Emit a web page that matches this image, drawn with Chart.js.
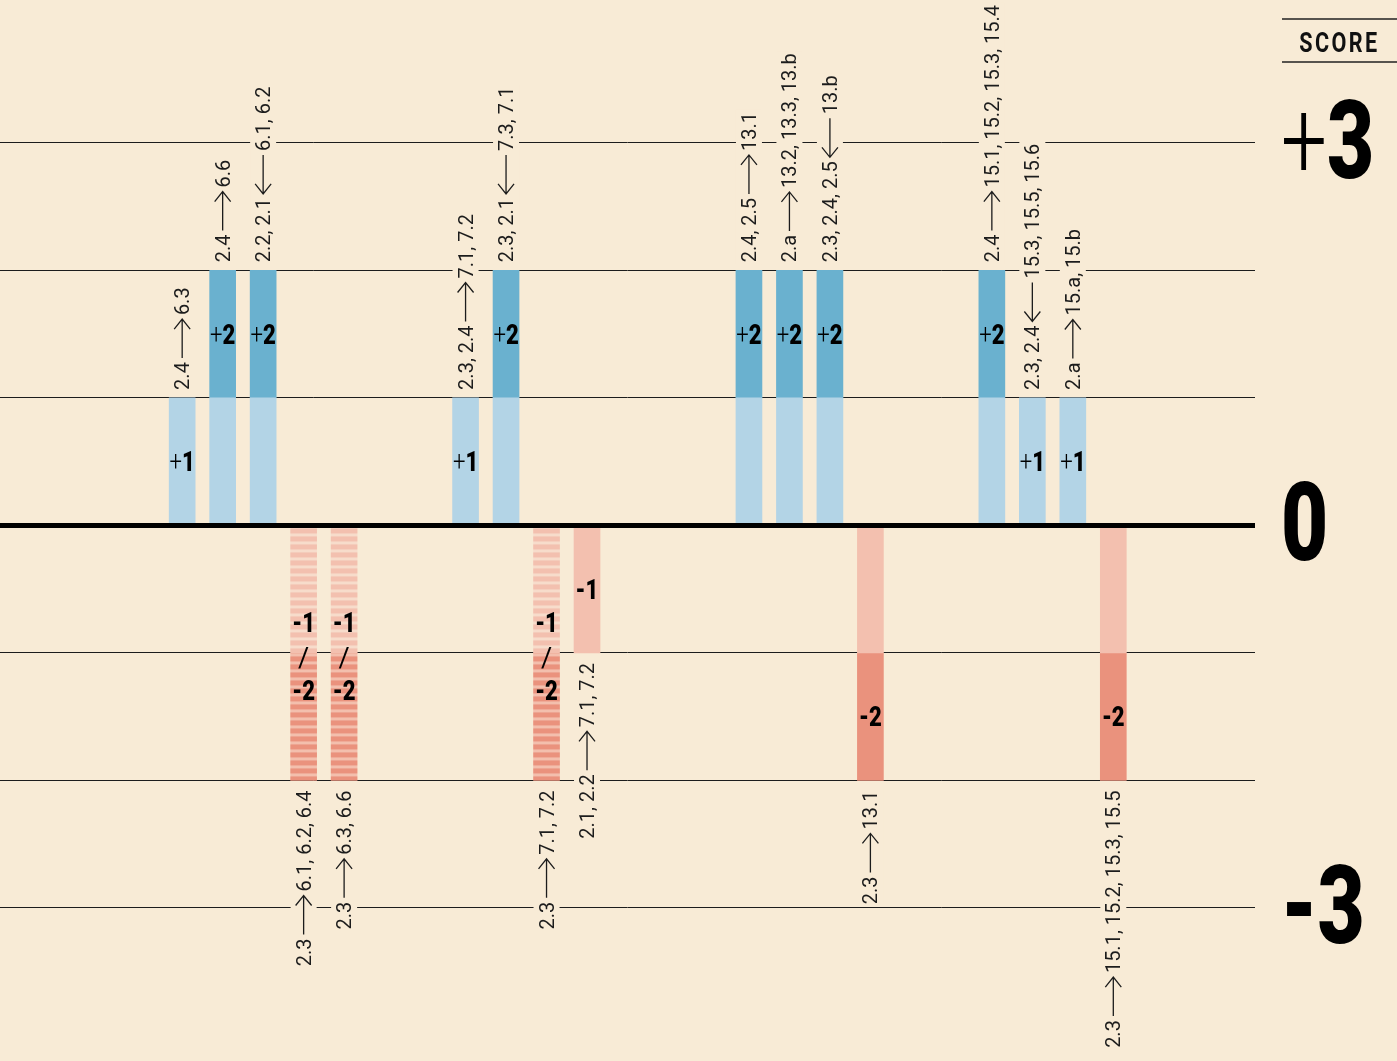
<!DOCTYPE html>
<html lang="en">
<head>
<meta charset="utf-8">
<title>SDG 2 target interactions – score</title>
<script src="https://cdn.jsdelivr.net/npm/chart.js@4.4.1/dist/chart.umd.min.js"></script>
<style>
  html, body { margin: 0; padding: 0; background: #f8ebd6; }
  #wrap { width: 1397px; height: 1061px; position: relative; }
</style>
</head>
<body>
<div id="wrap"><canvas id="scoreChart"></canvas></div>
<script>
// ===== data =====
const sdg2Targets = ['2.4', '2.4', '2.2, 2.1', '2.3', '2.3', '2.3, 2.4', '2.3, 2.1', '2.3', '2.1, 2.2',
  '2.4, 2.5', '2.a', '2.3, 2.4, 2.5', '2.3', '2.4', '2.3, 2.4', '2.a', '2.3'];
const arrowDirs = ['right', 'right', 'left', 'right', 'right', 'right', 'left', 'right', 'right',
  'right', 'right', 'left', 'right', 'right', 'left', 'right', 'right'];
const otherTargets = ['6.3', '6.6', '6.1, 6.2', '6.1, 6.2, 6.4', '6.3, 6.6', '7.1, 7.2', '7.3, 7.1', '7.1, 7.2', '7.1, 7.2',
  '13.1', '13.2, 13.3, 13.b', '13.b', '13.1', '15.1, 15.2, 15.3, 15.4', '15.3, 15.5, 15.6', '15.a, 15.b', '15.1, 15.2, 15.3, 15.5'];
const scores = [1, 2, 2, -2, -2, 1, 2, -2, -1, 2, 2, 2, -2, 2, 1, 1, -2];
// -1 / -2 : score not settled between the two
const uncertain = [false, false, false, true, true, false, false, true, false,
  false, false, false, false, false, false, false, false];
const groupSizes = [5, 4, 4, 4];
const scoreMarks = [3, 0, -3];
const scoreMarkLabels = ['+3', '0', '-3'];

// ===== layout =====
const LEAD_SLOTS = 4;
const GAP_SLOTS = [2, 3, 2];
const TRAIL_SLOTS = 3;

const BG = '#f8ebd6';
const INK = '#1c1c1c';
const BLUE_LIGHT = '#b3d4e6';
const BLUE_DARK = '#6ab1cf';
const RED_LIGHT = '#f3c0af';
const RED_DARK = '#ea927d';

// slot -> bar index (null = empty slot)
const slotBar = [];
for (let i = 0; i < LEAD_SLOTS; i++) slotBar.push(null);
let barNo = 0;
groupSizes.forEach((n, g) => {
  for (let i = 0; i < n; i++) slotBar.push(barNo++);
  const gap = g < GAP_SLOTS.length ? GAP_SLOTS[g] : TRAIL_SLOTS;
  for (let i = 0; i < gap; i++) slotBar.push(null);
});
const slotLabels = slotBar.map(b => b == null ? '' : sdg2Targets[b] + ' / ' + otherTargets[b]);
const innerData = slotBar.map(b => b == null ? null : Math.sign(scores[b]));
const outerData = slotBar.map(b => (b == null || Math.abs(scores[b]) < 2) ? null : scores[b] - Math.sign(scores[b]));

// striped fill for the -1 / -2 bars
function makeStripes(stripe, gap) {
  const c = document.createElement('canvas');
  c.width = 4; c.height = 8;
  const g = c.getContext('2d');
  g.fillStyle = gap; g.fillRect(0, 0, 4, 8);
  g.fillStyle = stripe; g.fillRect(0, 0, 4, 5);
  return g.createPattern(c, 'repeat');
}
const ctx0 = document.getElementById('scoreChart').getContext('2d');
const stripeLight = makeStripes(RED_LIGHT, '#f7dccb');
const stripeDark = makeStripes(RED_DARK, '#f3bfad');

function innerColor(c) {
  const b = slotBar[c.dataIndex];
  if (b == null) return 'rgba(0,0,0,0)';
  if (uncertain[b]) return stripeLight;
  return scores[b] > 0 ? BLUE_LIGHT : RED_LIGHT;
}
function outerColor(c) {
  const b = slotBar[c.dataIndex];
  if (b == null) return 'rgba(0,0,0,0)';
  if (uncertain[b]) return stripeDark;
  return scores[b] > 0 ? BLUE_DARK : RED_DARK;
}

// sign light for '+', heavy for '-', digits heavy, squeezed horizontally
function drawSigned(ctx, text, x, baseline, size, squeeze, align) {
  const sign = (text[0] === '+' || text[0] === '-') ? text[0] : '';
  const rest = sign ? text.slice(1) : text;
  const fam = 'px Roboto, "Liberation Sans", sans-serif';
  const signFont = (sign === '+' ? '300 ' : '900 ') + size + fam;
  const restFont = '900 ' + size + fam;
  ctx.font = signFont;
  const ws = sign ? ctx.measureText(sign).width : 0;
  ctx.font = restFont;
  const wr = ctx.measureText(rest).width;
  ctx.save();
  ctx.translate(x, baseline);
  ctx.scale(squeeze, 1);
  ctx.textAlign = 'left';
  ctx.textBaseline = 'alphabetic';
  ctx.fillStyle = '#000';
  const x0 = align === 'left' ? 0 : -(ws + wr) / 2;
  if (sign) { ctx.font = signFont; ctx.fillText(sign, x0, 0); }
  ctx.font = restFont;
  ctx.fillText(rest, x0 + ws, 0);
  ctx.restore();
}

const LABEL_FONT = '400 20px Roboto, "Liberation Sans", sans-serif';
const ARROW_LEN = 39;
const ARROW_GAP = 4;

const labelPlugin = {
  id: 'labelPlugin',
  beforeDatasetsDraw(chart) {
    const y0 = chart.scales.y.getPixelForValue(0);
    const m = new DOMMatrix().translate(0, y0 + 3);
    stripeLight.setTransform(m);
    stripeDark.setTransform(m);
  },
  afterDatasetsDraw(chart) {
    const ctx = chart.ctx;
    const ys = chart.scales.y;
    const area = chart.chartArea;
    const meta = chart.getDatasetMeta(0);

    // zero line on top of the bars
    const y0 = ys.getPixelForValue(0);
    ctx.save();
    ctx.strokeStyle = '#000';
    ctx.lineWidth = 5;
    ctx.beginPath();
    ctx.moveTo(area.left, y0);
    ctx.lineTo(area.right, y0);
    ctx.stroke();
    ctx.restore();

    slotBar.forEach((b, s) => {
      if (b == null) return;
      const x = meta.data[s].x;
      const s0 = scores[b];
      const sg = Math.sign(s0);

      // rotated target label
      ctx.save();
      ctx.font = LABEL_FONT;
      const wa = ctx.measureText(sdg2Targets[b]).width;
      const wb = ctx.measureText(otherTargets[b]).width;
      const total = wa + ARROW_GAP * 2 + ARROW_LEN + wb;
      const yEnd = ys.getPixelForValue(s0);
      const start = s0 > 0 ? yEnd - 8 : yEnd + 10 + total;
      ctx.translate(x, start);
      ctx.rotate(-Math.PI / 2);
      ctx.fillStyle = BG;
      ctx.fillRect(-2, -13, total + 4, 26);
      ctx.fillStyle = INK;
      ctx.textAlign = 'left';
      ctx.textBaseline = 'alphabetic';
      ctx.fillText(sdg2Targets[b], 0, 7);
      ctx.fillText(otherTargets[b], wa + ARROW_GAP * 2 + ARROW_LEN, 7);
      const a1 = wa + ARROW_GAP, a2 = a1 + ARROW_LEN;
      ctx.strokeStyle = INK;
      ctx.lineWidth = 1.3;
      ctx.beginPath();
      ctx.moveTo(a1, 0); ctx.lineTo(a2, 0);
      if (arrowDirs[b] === 'right') {
        ctx.moveTo(a2 - 10, -8); ctx.lineTo(a2, 0); ctx.lineTo(a2 - 10, 8);
      } else {
        ctx.moveTo(a1 + 10, -8); ctx.lineTo(a1, 0); ctx.lineTo(a1 + 10, 8);
      }
      ctx.stroke();
      ctx.restore();

      // score inside the bar
      const cap = 27 * 0.711;
      if (uncertain[b]) {
        const yl = ys.getPixelForValue(-1);
        drawSigned(ctx, '-1', x, yl - 31 + cap / 2, 27, 0.82);
        ctx.save();
        ctx.font = '400 27px Roboto, sans-serif';
        ctx.fillStyle = '#000';
        ctx.textAlign = 'center';
        ctx.textBaseline = 'alphabetic';
        ctx.fillText('/', x, yl + 4 + cap / 2);
        ctx.restore();
        drawSigned(ctx, '-2', x, yl + 37 + cap / 2, 27, 0.82);
      } else {
        const mid = Math.abs(s0) > 1 ? sg * 1.5 : sg * 0.5;
        const txt = (s0 > 0 ? '+' : '-') + Math.abs(s0);
        drawSigned(ctx, txt, x, ys.getPixelForValue(mid) + cap / 2, 27, 0.82);
      }
    });

    // score key on the right
    const kx = area.right + 27;
    ctx.save();
    ctx.strokeStyle = '#222';
    ctx.lineWidth = 1.5;
    ctx.beginPath();
    ctx.moveTo(kx, 19); ctx.lineTo(chart.width, 19);
    ctx.moveTo(kx, 62); ctx.lineTo(chart.width, 62);
    ctx.stroke();
    ctx.translate((kx + chart.width) / 2, 52);
    ctx.scale(0.8, 1);
    ctx.font = '700 27px Roboto, sans-serif';
    ctx.letterSpacing = '3px';
    ctx.fillStyle = '#111';
    ctx.textAlign = 'center';
    ctx.fillText('SCORE', 0, 0);
    ctx.restore();

    scoreMarks.forEach((v, i) => {
      drawSigned(ctx, scoreMarkLabels[i], kx - 1, ys.getPixelForValue(v) + 35, 110, 0.74, 'left');
    });
  }
};

new Chart(ctx0, {
  type: 'bar',
  data: {
    labels: slotLabels,
    datasets: [
      { label: 'score 0 to ±1', data: innerData, backgroundColor: innerColor, barThickness: 26, borderWidth: 0 },
      { label: 'score ±1 to ±2', data: outerData, backgroundColor: outerColor, barThickness: 26, borderWidth: 0 }
    ]
  },
  options: {
    responsive: true,
    maintainAspectRatio: false,
    animation: false,
    layout: { padding: { left: 0, right: 142, top: 0, bottom: 0 } },
    plugins: { legend: { display: false }, tooltip: { enabled: false } },
    scales: {
      x: { stacked: true, display: false },
      y: {
        stacked: true,
        min: -4.2,
        max: 4.12,
        border: { display: false },
        ticks: { display: false, stepSize: 1 },
        grid: {
          drawTicks: false,
          color: c => (Number.isInteger(c.tick.value) && Math.abs(c.tick.value) <= 3) ? '#1c1c1c' : 'rgba(0,0,0,0)',
          lineWidth: c => c.tick.value === 0 ? 5 : 1
        }
      }
    }
  },
  plugins: [labelPlugin]
});
</script>
</body>
</html>
